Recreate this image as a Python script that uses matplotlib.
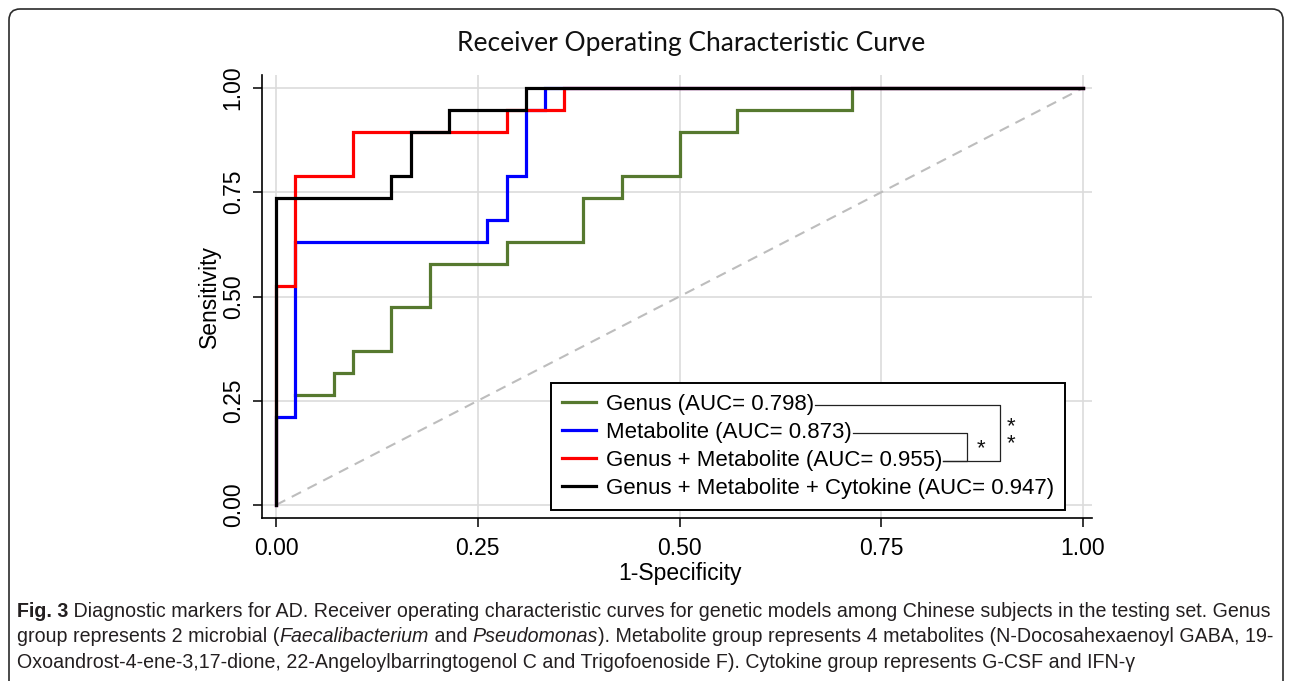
"""
ROC curves for the AD diagnostic models (Fig. 3), with the figure caption.
Writes out.png at 1292x681.
"""

import matplotlib

matplotlib.use("Agg")

import matplotlib.pyplot as plt
from matplotlib.lines import Line2D
from matplotlib.patches import FancyBboxPatch

W, H = 1292, 681

# Test set sizes (steps are counts of false / true positives)
N_NEG = 42
N_POS = 19

# ROC corner points
GENUS_FP = [1, 3, 3, 4, 4, 6, 6, 8, 8, 12, 12, 16, 16, 18, 18, 21, 21, 24, 24, 30, 30, 42]
GENUS_TP = [5, 5, 6, 6, 7, 7, 9, 9, 11, 11, 12, 12, 14, 14, 15, 15, 17, 17, 18, 18, 19, 19]
METAB_FP = [0, 0, 1, 1, 11, 11, 12, 12, 13, 13, 14, 14, 42]
METAB_TP = [0, 4, 4, 12, 12, 13, 13, 15, 15, 18, 18, 19, 19]
GM_FP = [0, 0, 1, 1, 4, 4, 12, 12, 15, 15, 42]
GM_TP = [0, 10, 10, 15, 15, 17, 17, 18, 18, 19, 19]
GMC_FP = [0, 0, 6, 6, 7, 7, 9, 9, 13, 13, 42]
GMC_TP = [0, 14, 14, 15, 15, 17, 17, 18, 18, 19, 19]

LABELS = [
    "Genus (AUC= 0.798)",
    "Metabolite (AUC= 0.873)",
    "Genus + Metabolite (AUC= 0.955)",
    "Genus + Metabolite + Cytokine (AUC= 0.947)",
]
COLORS = ["#56792f", "#0000ff", "#ff0000", "#000000"]
TICKS = [0.0, 0.25, 0.5, 0.75, 1.0]
TICK_LABELS = ["0.00", "0.25", "0.50", "0.75", "1.00"]

TITLE = "Receiver Operating Characteristic Curve"

# caption, one list of (text, style) runs per line
CAPTION = [
    [("Fig. 3", "bold"),
     (" Diagnostic markers for AD. Receiver operating characteristic curves for genetic "
      "models among Chinese subjects in the testing set. Genus", "normal")],
    [("group represents 2 microbial (", "normal"), ("Faecalibacterium", "italic"),
     (" and ", "normal"), ("Pseudomonas", "italic"),
     ("). Metabolite group represents 4 metabolites (N-Docosahexaenoyl GABA, 19-", "normal")],
    [("Oxoandrost-4-ene-3,17-dione, 22-Angeloylbarringtogenol C and Trigofoenoside F). "
      "Cytokine group represents G-CSF and IFN-\u03b3", "normal")],
]

SANS = ["Liberation Sans", "DejaVu Sans"]
CAP_FONT = ["Liberation Sans", "DejaVu Sans"]


def fx(px):
    return px / W


def fy(py):
    return 1 - py / H


fig = plt.figure(figsize=(W / 100, H / 100), dpi=100)
fig.patch.set_facecolor("white")
plt.rcParams["font.family"] = SANS

# axes: spines run from pixel x 262..1092, y 75..518
ax = fig.add_axes([fx(262), fy(518), (1092 - 262) / W, (518 - 75) / H])
ax.set_xlim((262 - 276) / 807, (1092 - 276) / 807)
ax.set_ylim((505 - 518) / 417, (505 - 75) / 417)

for s in ("top", "right"):
    ax.spines[s].set_visible(False)
for s in ("left", "bottom"):
    ax.spines[s].set_linewidth(1.2)

ax.set_xticks(TICKS)
ax.set_xticklabels(TICK_LABELS)
ax.set_yticks(TICKS)
ax.set_yticklabels(TICK_LABELS, rotation=90, va="center")
ax.tick_params(direction="out", length=6.5, width=1.1, labelsize=16.5, pad=6)
ax.tick_params(axis="x", pad=7.5)
ax.grid(True, color="#dcdcdc", linewidth=1.2)
ax.set_axisbelow(True)

ax.plot([0, 1], [0, 1], color="#bdbdbd", linewidth=1.5, dashes=(5, 3.5), zorder=2)

curves = [(GENUS_FP, GENUS_TP), (METAB_FP, METAB_TP), (GM_FP, GM_TP), (GMC_FP, GMC_TP)]
handles = []
for (fp, tp), col in zip(curves, COLORS):
    xs = [v / N_NEG for v in fp]
    ys = [v / N_POS for v in tp]
    (ln,) = ax.plot(xs, ys, color=col, linewidth=2.3, solid_joinstyle="miter", zorder=3)
    handles.append(ln)

ax.set_xlabel("1-Specificity", fontsize=16.5)
ax.set_ylabel("Sensitivity", fontsize=16.5)
ax.xaxis.set_label_coords((680 - 262) / 830, (518 - 562) / 443)
ax.yaxis.set_label_coords((221 - 262) / 830, 0.5)

leg = ax.legend(
    handles, LABELS, loc="upper left",
    bbox_to_anchor=(fx(551), fy(383)), bbox_transform=fig.transFigure,
    fontsize=16, frameon=True, fancybox=False, borderaxespad=0,
    borderpad=0.48, labelspacing=0.32, handlelength=1.55, handletextpad=0.45,
)
leg.get_frame().set_edgecolor("black")
leg.get_frame().set_linewidth(1.4)
leg.get_frame().set_alpha(1)
leg.set_zorder(5)

fig.text(fx(691), fy(43), TITLE, ha="center", va="center", fontsize=19,
         family=["Lato", "DejaVu Sans"], color="#111111")

# frame round the whole figure
frame = FancyBboxPatch((9, -20), W - 18, H - 9 + 20,
                       boxstyle="round,pad=0,rounding_size=11",
                       transform=None, facecolor="none", edgecolor="#2b2b2b", linewidth=1.2)
fig.add_artist(frame)

# brackets and significance stars next to the legend
fig.canvas.draw()
renderer = fig.canvas.get_renderer()
ends = []
for t in leg.get_texts():
    bb = t.get_window_extent(renderer)
    ends.append((bb.x1 + 1, (bb.y0 + bb.y1) / 2 - 1))


def bracket(top, bottom, x_px):
    xs = [top[0], x_px, x_px, bottom[0]]
    ys = [top[1], top[1], bottom[1], bottom[1]]
    fig.add_artist(Line2D(xs, ys, transform=None, color="#222222", linewidth=0.9))


bracket(ends[0], ends[2], 1000)
bracket(ends[1], ends[2], 967)

star_kw = dict(ha="center", va="center", fontsize=16, color="#111111", transform=None)
fig.text(981, (ends[1][1] + ends[2][1]) / 2 - 1, "*", **star_kw)
fig.text(1011, (ends[0][1] + ends[2][1]) / 2 - 2, "*\n*", linespacing=0.75, **star_kw)


# caption, fitted so the first line spans the same width as the original
def style_kw(style):
    if style == "bold":
        return {"fontweight": "bold"}
    if style == "italic":
        return {"fontstyle": "italic"}
    return {}


def lay_line(runs, x, y, size):
    arts = []
    for text, style in runs:
        t = fig.text(x, y, text, fontsize=size, family=CAP_FONT, color="#231f20",
                     ha="left", va="baseline", transform=None, **style_kw(style))
        x = t.get_window_extent(renderer).x1
        arts.append(t)
    return arts, x


probe, x_end = lay_line(CAPTION[0], 17, 0, 13.0)
for a in probe:
    a.remove()
cap_size = 13.0 * (1266 - 17) / (x_end - 17)

for i, runs in enumerate(CAPTION):
    lay_line(runs, 17, H - (617 + 25.5 * i), cap_size)

fig.savefig("out.png", dpi=100, facecolor="white")
